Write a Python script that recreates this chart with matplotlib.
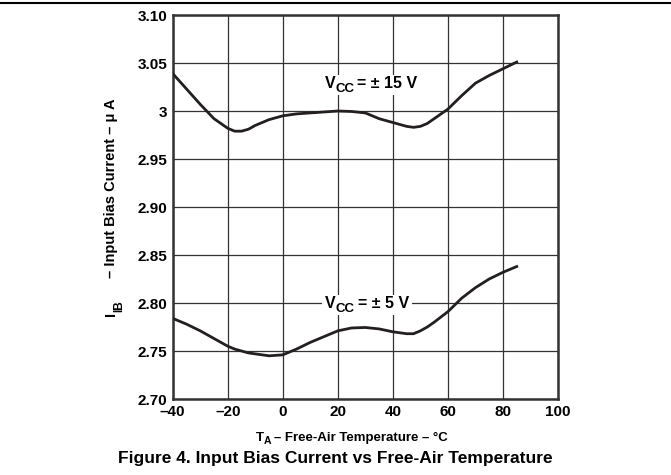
"""
Input bias current vs free-air temperature (Figure 4)
"""
import numpy as np
import matplotlib
matplotlib.use("Agg")
import matplotlib.pyplot as plt
from matplotlib.lines import Line2D

plt.rcParams['font.family'] = ['Liberation Sans', 'DejaVu Sans']
plt.rcParams['font.weight'] = 'bold'

# Data
temp = [-40, -35, -30, -25, -20, -17.5, -15, -12.5, -10, -5, 0, 5, 10, 15,
        20, 25, 30, 35, 40, 45, 47.5, 50, 52.5, 55, 60, 65, 70, 75, 80, 85]
iib_15v = [3.039, 3.023, 3.007, 2.992, 2.982, 2.979, 2.979, 2.981, 2.985,
           2.991, 2.995, 2.997, 2.998, 2.999, 3.000, 2.9995, 2.998, 2.992,
           2.988, 2.984, 2.983, 2.984, 2.987, 2.992, 3.002, 3.016, 3.029,
           3.037, 3.044, 3.051]
iib_5v = [2.784, 2.778, 2.771, 2.763, 2.755, 2.752, 2.750, 2.748, 2.747,
          2.745, 2.746, 2.752, 2.759, 2.765, 2.771, 2.774, 2.7745, 2.773,
          2.770, 2.768, 2.768, 2.771, 2.775, 2.780, 2.791, 2.805, 2.816,
          2.825, 2.832, 2.838]

xticks = [-40, -20, 0, 20, 40, 60, 80, 100]
xticklabels = ['\u201340', '\u201320', '0', '20', '40', '60', '80', '100']
yticks = [2.70, 2.75, 2.80, 2.85, 2.90, 2.95, 3.00, 3.05, 3.10]
yticklabels = ['2.70', '2.75', '2.80', '2.85', '2.90', '2.95', '3', '3.05', '3.10']

W, H = 671, 475
fig = plt.figure(figsize=(W / 100, H / 100), dpi=100)
ax = fig.add_axes([0.2574, 0.160, 0.5742, 0.8084])
renderer = fig.canvas.get_renderer()


def text_width(s, size):
    t = fig.text(0, 0, s, fontsize=size, fontweight='bold')
    w = t.get_window_extent(renderer).width
    t.remove()
    return w


def rich_text(cx, cy, pieces, rotation=0, box=False):
    """pieces: (string, fontsize, baseline drop in px, gap after in px)
    drawn centred on pixel position (cx, cy), origin bottom-left."""
    widths = [text_width(s, fs) for s, fs, _, _ in pieces]
    total = sum(widths) + sum(p[3] for p in pieces[:-1])
    pos = -total / 2
    for (s, fs, drop, gap), w in zip(pieces, widths):
        if rotation == 90:
            x, y = cx + drop, cy + pos
        else:
            x, y = cx + pos, cy - drop
        fig.text(x / W, y / H, s, fontsize=fs, fontweight='bold',
                 rotation=rotation, ha='left', va='baseline',
                 rotation_mode='anchor', zorder=5)
        pos += w + gap
    if box:
        fig.patches.append(plt.Rectangle(((cx - total / 2 - 3) / W, (cy - 7) / H),
                                         (total + 6) / W, 20 / H,
                                         transform=fig.transFigure,
                                         facecolor='white', edgecolor='none',
                                         zorder=4))


ax.plot(temp, iib_15v, color='#231f20', lw=2.0, zorder=3)
ax.plot(temp, iib_5v, color='#231f20', lw=2.0, zorder=3)

ax.set_xlim(-40, 100)
ax.set_ylim(2.70, 3.10)
ax.set_xticks(xticks)
ax.set_xticklabels(xticklabels)
ax.set_yticks(yticks)
ax.set_yticklabels(yticklabels)
ax.tick_params(length=0, labelsize=11, pad=4)
ax.grid(True, color='#333333', lw=0.9)
ax.set_axisbelow(True)
for s in ax.spines.values():
    s.set_linewidth(1.8)
    s.set_color('#333333')

# curve labels, placed from data coordinates
px, py = ax.transData.transform((32, 3.029))
rich_text(px, py - 5, [('V', 11.5, 0, 0), ('CC', 9.5, 4, 3),
                       ('= \u00b1 15 V', 11.5, 0, 0)], box=True)
px, py = ax.transData.transform((30.6, 2.80))
rich_text(px, py - 5, [('V', 11.5, 0, 0), ('CC', 9.5, 4, 3),
                       ('= \u00b1 5 V', 11.5, 0, 0)], box=True)

# axis labels
rich_text(352, H - 441, [('T', 9.5, 0, 0), ('A', 7.5, 3, 3),
                         ('\u2013 Free-Air Temperature \u2013 \u00b0C', 9.5, 0, 0)])
rich_text(115, H - 207, [('I', 10.5, 0, 0), ('IB', 8.5, 7, 22),
                         ('\u2013 Input Bias Current \u2013 \u03bc A', 10.5, 0, 0)],
          rotation=90)

fig.text(0.5, 1 - 458 / 475, 'Figure 4. Input Bias Current vs Free-Air Temperature',
         ha='center', va='center', fontsize=12.5, fontweight='bold')
fig.add_artist(Line2D([0, 1], [1 - 3 / 475, 1 - 3 / 475], color='black', lw=1.5))

fig.savefig('out.png', dpi=100)
